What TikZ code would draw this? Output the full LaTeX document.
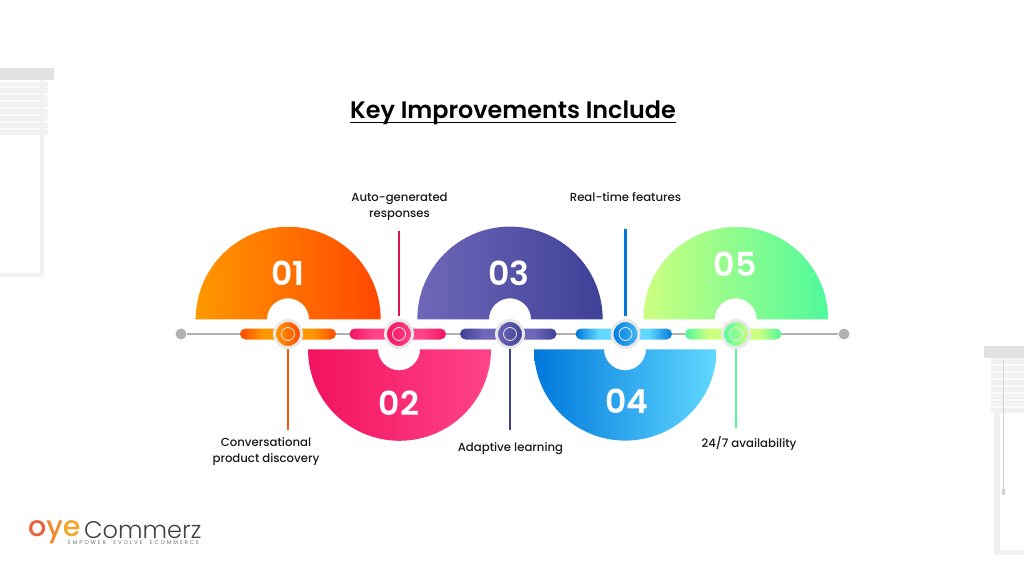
\documentclass[tikz,border=0pt]{standalone}
\usepackage{fontspec}
\setmainfont{Poppins}
\newfontfamily\numberfont{Poppins SemiBold}
\newfontfamily\labelfont{Poppins Medium}
\newfontfamily\brandfont{Poppins Light}
\newfontfamily\tagfont[LetterSpace=34,WordSpace=2.2]{Poppins}
\usepackage{tikz}

\definecolor{orangeA}{HTML}{FF9800}
\definecolor{orangeB}{HTML}{FF4800}
\definecolor{pinkA}{HTML}{F2125F}
\definecolor{pinkB}{HTML}{FF4488}
\definecolor{violetA}{HTML}{6F67B9}
\definecolor{violetB}{HTML}{3E4197}
\definecolor{blueA}{HTML}{0078DC}
\definecolor{blueB}{HTML}{60D8FF}
\definecolor{greenA}{HTML}{CDFF80}
\definecolor{greenB}{HTML}{4FF99C}
\definecolor{wallA}{HTML}{E2E2E2}
\definecolor{wallB}{HTML}{F1F1F1}
\definecolor{wallC}{HTML}{FAFAFA}

\newcommand{\pillshading}[3]{%
    \pgfdeclarehorizontalshading{#1}{100bp}{color(0bp)=(#2); color(25bp)=(#2); color(37bp)=(#3); color(63bp)=(#3); color(75bp)=(#2); color(100bp)=(#2)}}
\pillshading{pillorange}{orangeB}{orangeA}
\pillshading{pillpink}{pinkA}{pinkB}
\pillshading{pillviolet}{violetB}{violetA}
\pillshading{pillblue}{blueA}{blueB}
\pillshading{pillgreen}{greenB}{greenA}

\tikzset{
    hub/.style={circle, minimum size=27pt, inner sep=0pt, draw=black!9, line width=3pt},
    ringmark/.style={circle, minimum size=13pt, inner sep=0pt, draw=white!85!gray, line width=0.8pt},
    pill/.style={rounded corners=5.5pt},
    linkline/.style={line width=2.4pt},
    number/.style={text=white, font=\numberfont\fontsize{33}{33}\selectfont, inner sep=0pt},
    caption/.style={font=\labelfont\fontsize{11.7}{16}\selectfont, align=center, inner sep=0pt, text=black!90}
}

\begin{document}
\begin{tikzpicture}[x=1pt,y=1pt]
    \useasboundingbox (0,0) rectangle (1024,576);

    % window on the left
    \fill[wallB] (0,441) rectangle (48,494);
    \foreach \yy in {447,454,461,468,475,482,489}
        \draw[wallC, line width=2pt] (0,\yy) -- (48,\yy);
    \fill[wallB] (40,300) rectangle (44,496);
    \fill[wallB] (0,299) rectangle (44,303);
    \fill[wallA] (0,496) rectangle (54,508);

    % window on the right
    \fill[wallB] (991,163) rectangle (1024,218);
    \foreach \yy in {169,176,183,190,197,204,211}
        \draw[wallC, line width=2pt] (991,\yy) -- (1024,\yy);
    \fill[wallB] (994,21) rectangle (1000,163);
    \fill[wallB] (994,21) rectangle (1024,26);
    \draw[black!18, line width=0.6pt] (1003,86) -- (1003,216);
    \fill[black!18] (1001.5,81) rectangle (1004.5,87);
    \fill[wallA] (984,218) rectangle (1024,230);

    % title
    \node (title) [font=\numberfont\fontsize{23.85}{25}\selectfont, inner sep=0pt, anchor=base] at (513,457) {Key Improvements Include};
    \draw[line width=1.6pt] ([yshift=-3.5pt]title.base west) -- ([yshift=-3.5pt]title.base east);

    % axis
    \node (startdot) [circle, fill=black!30, minimum size=11pt, inner sep=0pt] at (181,242) {};
    \node (enddot) [circle, fill=black!30, minimum size=11pt, inner sep=0pt] at (844,242) {};
    \draw[black!30, line width=2.4pt] (startdot) -- (enddot);

    % half discs
    \shade[left color=orangeA, right color=orangeB] (195.7,256.7) arc (180:0:92.5) -- (309,256.7) arc (0:180:21) -- cycle;
    \shade[left color=pinkA, right color=pinkB] (308,226.7) arc (180:360:91.5) -- (420,226.7) arc (360:180:21) -- cycle;
    \shade[left color=violetA, right color=violetB] (417.3,256.7) arc (180:0:92.7) -- (531,256.7) arc (0:180:21) -- cycle;
    \shade[left color=blueA, right color=blueB] (534,226.7) arc (180:360:91.3) -- (646,226.7) arc (360:180:21) -- cycle;
    \shade[left color=greenA, right color=greenB] (643.3,256.7) arc (180:0:92.4) -- (756.7,256.7) arc (0:180:21) -- cycle;

    % bars
    \shade[pill, shading=pillorange] (240,236.5) rectangle (336,247.5);
    \shade[pill, shading=pillpink] (349.5,236.5) rectangle (446,247.5);
    \shade[pill, shading=pillviolet] (460,236.5) rectangle (556.5,247.5);
    \shade[pill, shading=pillblue] (575.5,236.5) rectangle (672,247.5);
    \shade[pill, shading=pillgreen] (685,236.5) rectangle (781.5,247.5);

    % hubs
    \node (hubA) [hub, left color=orangeA, right color=orangeB] at (288,242) {};
    \node (hubB) [hub, left color=pinkA, right color=pinkB] at (399,242) {};
    \node (hubC) [hub, left color=violetA, right color=violetB] at (510,242) {};
    \node (hubD) [hub, left color=blueA, right color=blueB!70!blueA] at (625.5,242) {};
    \node (hubE) [hub, left color=greenB, right color=greenA] at (736,242) {};
    \node (ringA) [ringmark] at (hubA) {};
    \node (ringB) [ringmark] at (hubB) {};
    \node (ringC) [ringmark] at (hubC) {};
    \node (ringD) [ringmark] at (hubD) {};
    \node (ringE) [ringmark] at (hubE) {};

    % numbers
    \node (numA) [number] at (288,303) {01};
    \node (numB) [number] at (399,173) {02};
    \node (numC) [number] at (509,303) {03};
    \node (numD) [number] at (627,175) {04};
    \node (numE) [number] at (735,312) {05};

    % connectors
    \coordinate (endA) at (288,146);
    \coordinate (endB) at (399,344.5);
    \coordinate (endC) at (510,146);
    \coordinate (endD) at (625.5,346.5);
    \coordinate (endE) at (736,148);
    \draw[linkline, orangeB!80!orangeA] (hubA) -- (endA);
    \draw[linkline, pinkA!92!black, shorten <=3pt] (hubB) -- (endB);
    \draw[linkline, violetB] (hubC) -- (endC);
    \draw[linkline, blueA, shorten <=3pt] (hubD) -- (endD);
    \draw[linkline, greenB] (hubE) -- (endE);

    % captions
    \node (capA) [caption] at (266,124.5) {Conversational\\product discovery};
    \node (capB) [caption] at (399.5,369.5) {Auto-generated\\responses};
    \node (capC) [caption] at (510.5,127.5) {Adaptive learning};
    \node (capD) [caption] at (625.5,378.5) {Real-time features};
    \node (capE) [caption] at (749,132.5) {24/7 availability};

    % logo
    \node (brandA) [font=\labelfont\fontsize{28.5}{30}\selectfont, inner sep=0pt, anchor=base west] at (28,40)
        {\textcolor[HTML]{E9603C}{o}\textcolor[HTML]{EE8A2C}{y}\textcolor[HTML]{F4A52A}{e}};
    \node (brandB) [font=\brandfont\fontsize{24}{24}\selectfont, text=black!75, inner sep=0pt, anchor=base west] at (84,38) {Commerz};
    \node (brandC) [font=\tagfont\fontsize{5.5}{6}\selectfont, text=black!55, inner sep=0pt, anchor=base west] at (68,31.5) {EMPOWER EVOLVE ECOMMERCE};
\end{tikzpicture}
\end{document}
